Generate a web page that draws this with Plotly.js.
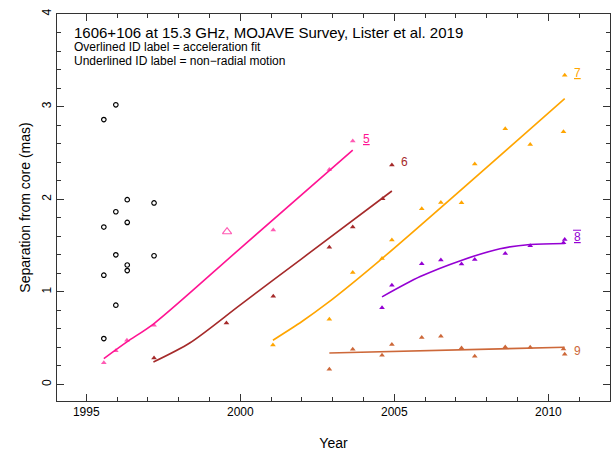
<!DOCTYPE html>
<html>
<head>
<meta charset="utf-8">
<script src="https://cdn.plot.ly/plotly-3.0.1.min.js"></script>
<style>
  html, body { margin: 0; padding: 0; background: #fff; }
  #chart { width: 614px; height: 451px; }
</style>
</head>
<body>
<div id="chart"></div>
<script>
// Knots not assigned to a tracked component (open circles)
const otherEpoch = [1995.96, 1995.57, 1996.33, 1997.20, 1995.96, 1996.33, 1995.57,
                    1995.96, 1997.20, 1996.33, 1996.33, 1995.57, 1995.96, 1995.57];
const otherSep   = [3.02, 2.86, 1.995, 1.96, 1.865, 1.75, 1.70,
                    1.40, 1.39, 1.29, 1.23, 1.18, 0.856, 0.496];

// Component 5
const c5Epoch = [1995.57, 1995.96, 1996.32, 1997.20, 1999.57, 2001.07, 2002.89, 2003.65];
const c5Sep   = [0.235, 0.364, 0.478, 0.64, 1.65, 1.667, 2.32, 2.63];
const c5Open  = [false, false, false, false, true, false, false, false];
const c5FitEpoch = [1995.57, 1996.32, 1997.20, 2000.0, 2003.65];
const c5FitSep   = [0.28, 0.46, 0.658, 1.47, 2.53];

// Component 6
const c6Epoch = [1997.20, 1999.55, 2001.07, 2002.89, 2003.65, 2004.62, 2004.92];
const c6Sep   = [0.287, 0.665, 0.954, 1.483, 1.70, 2.005, 2.37];
const c6FitEpoch = [1997.18, 1998.37, 2000.0, 2002.0, 2004.92];
const c6FitSep   = [0.243, 0.451, 0.86, 1.36, 2.089];

// Component 7
const c7Epoch = [2001.06, 2002.89, 2003.65, 2004.60, 2004.92, 2005.89, 2006.51, 2007.18,
                 2007.61, 2008.60, 2009.41, 2010.49, 2010.53];
const c7Sep   = [0.427, 0.705, 1.21, 1.36, 1.56, 1.897, 1.966, 1.962,
                 2.38, 2.76, 2.59, 2.73, 3.34];
const c7FitEpoch = [2001.06, 2002.0, 2002.81, 2004.60, 2010.53];
const c7FitSep   = [0.478, 0.68, 0.875, 1.36, 3.087];

// Component 8 (accelerating)
const c8Epoch = [2004.60, 2004.92, 2005.89, 2006.51, 2007.18, 2007.61, 2008.60, 2009.41,
                 2010.49, 2010.53];
const c8Sep   = [0.83, 1.072, 1.303, 1.343, 1.30, 1.35, 1.415, 1.497, 1.53, 1.566];
const c8FitEpoch = [2004.60, 2005.84, 2007.17, 2008.43, 2009.41, 2010.53];
const c8FitSep   = [0.946, 1.165, 1.340, 1.466, 1.512, 1.523];

// Component 9
const c9Epoch = [2002.89, 2003.65, 2004.60, 2004.92, 2005.89, 2006.51, 2007.18, 2007.61,
                 2008.60, 2009.41, 2010.49, 2010.53];
const c9Sep   = [0.164, 0.38, 0.316, 0.431, 0.507, 0.521, 0.395, 0.305,
                 0.405, 0.402, 0.384, 0.326];
const c9FitEpoch = [2002.89, 2010.53];
const c9FitSep   = [0.341, 0.402];

// Component ID labels (underline = non-radial motion, overline = acceleration fit)
const idText  = ['5', '6', '7', '8', '9'];
const idUnder = [true, false, true, true, false];
const idOver  = [false, false, false, true, false];
const idEpoch = [2004.08, 2005.32, 2010.93, 2010.93, 2010.93];
const idSep   = [2.65, 2.40, 3.36, 1.59, 0.36];

const cPink = '#ff1493', cBrown = '#a52a2a', cOrange = '#ffa500',
      cPurple = '#9400d3', cSienna = '#cd6839';
const idColor = [cPink, cBrown, cOrange, cPurple, cSienna];

function pts(x, y, color, extra) {
  return Object.assign({
    x: x, y: y, type: 'scatter', mode: 'markers', hoverinfo: 'skip',
    marker: { symbol: 'triangle-up', size: 5, color: color, line: { width: 0 } }
  }, extra || {});
}
function fit(x, y, color, smooth) {
  return {
    x: x, y: y, type: 'scatter', mode: 'lines', hoverinfo: 'skip',
    line: { color: color, width: 1.6, shape: smooth ? 'spline' : 'linear', smoothing: 0.8 }
  };
}

const traces = [
  {
    x: otherEpoch, y: otherSep, type: 'scatter', mode: 'markers', hoverinfo: 'skip',
    marker: { symbol: 'circle-open', size: 4.5, color: '#000', line: { width: 1.2, color: '#000' } }
  },
  fit(c5FitEpoch, c5FitSep, cPink, true),
  pts(c5Epoch, c5Sep, cPink, {
    marker: {
      symbol: c5Open.map(o => o ? 'triangle-up-open' : 'triangle-up'),
      size: c5Open.map(o => o ? 8 : 5),
      color: cPink, line: { width: c5Open.map(o => o ? 1.1 : 0), color: cPink }
    }
  }),
  fit(c6FitEpoch, c6FitSep, cBrown, true),
  pts(c6Epoch, c6Sep, cBrown),
  fit(c7FitEpoch, c7FitSep, cOrange, true),
  pts(c7Epoch, c7Sep, cOrange),
  fit(c8FitEpoch, c8FitSep, cPurple, true),
  pts(c8Epoch, c8Sep, cPurple),
  fit(c9FitEpoch, c9FitSep, cSienna, false),
  pts(c9Epoch, c9Sep, cSienna)
];

const font = 'Liberation Sans, Arial, sans-serif';

const annotations = [];
const shapes = [];
idText.forEach((t, i) => {
  annotations.push({
    x: idEpoch[i], y: idSep[i], xref: 'x', yref: 'y',
    text: idUnder[i] ? '<u>' + t + '</u>' : t, showarrow: false,
    xanchor: 'center', yanchor: 'middle', font: { family: font, size: 12, color: idColor[i] }
  });
  if (idOver[i]) {
    // bar drawn just above the digit
    shapes.push({
      type: 'line', xref: 'x', yref: 'y',
      xsizemode: 'pixel', ysizemode: 'pixel',
      xanchor: idEpoch[i], yanchor: idSep[i],
      x0: -4, x1: 4, y0: 7, y1: 7,
      line: { color: idColor[i], width: 1 }
    });
  }
});

annotations.push(
  { xref: 'paper', yref: 'paper', x: 0.028, y: 0.951, xanchor: 'left', yanchor: 'middle',
    text: '1606+106 at 15.3 GHz, MOJAVE Survey, Lister et al. 2019', showarrow: false,
    font: { family: font, size: 15, color: '#000' } },
  { xref: 'paper', yref: 'paper', x: 0.028, y: 0.915, xanchor: 'left', yanchor: 'middle',
    text: 'Overlined ID label = acceleration fit', showarrow: false,
    font: { family: font, size: 12, color: '#000' } },
  { xref: 'paper', yref: 'paper', x: 0.028, y: 0.879, xanchor: 'left', yanchor: 'middle',
    text: 'Underlined ID label = non\u2212radial motion', showarrow: false,
    font: { family: font, size: 12, color: '#000' } }
);

const axisCommon = {
  showline: true, linecolor: '#333', linewidth: 1, mirror: 'allticks',
  ticks: 'inside', ticklen: 7, tickwidth: 1, tickcolor: '#333',
  showgrid: false, zeroline: false,
  tickfont: { family: font, size: 12, color: '#000' }
};

const layout = {
  width: 614, height: 451,
  margin: { l: 57, r: 4, t: 14, b: 50 },
  paper_bgcolor: '#fff', plot_bgcolor: '#fff',
  showlegend: false,
  xaxis: Object.assign({}, axisCommon, {
    range: [1994.05, 2012.0], tickmode: 'linear', tick0: 1995, dtick: 5,
    minor: { ticks: 'inside', dtick: 1, tick0: 1995, ticklen: 4, tickcolor: '#333' },
    title: { text: 'Year', font: { family: font, size: 14, color: '#000' }, standoff: 20 }
  }),
  yaxis: Object.assign({}, axisCommon, {
    range: [-0.178, 4.0], tickmode: 'linear', tick0: 0, dtick: 1, tickangle: -90,
    minor: { ticks: 'inside', dtick: 0.2, tick0: 0, ticklen: 4, tickcolor: '#333' },
    title: { text: 'Separation from core (mas)', font: { family: font, size: 14, color: '#000' }, standoff: 6 }
  }),
  annotations: annotations,
  shapes: shapes
};

Plotly.newPlot('chart', traces, layout, { displayModeBar: false, staticPlot: true });
</script>
</body>
</html>
